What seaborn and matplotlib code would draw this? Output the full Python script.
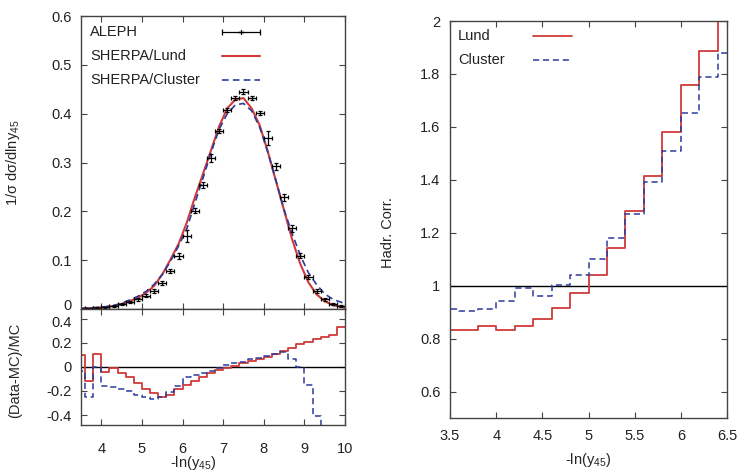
import numpy as np
import pandas as pd
import matplotlib
matplotlib.use("Agg")
import matplotlib.pyplot as plt
import matplotlib.transforms as mtransforms
from matplotlib.lines import Line2D
import seaborn as sns

# ---------------- data ----------------
BIN_WIDTH = 0.2
x_centers = [3.5, 3.7, 3.9, 4.1, 4.3, 4.5, 4.7, 4.9, 5.1, 5.3, 5.5, 5.7, 5.9, 6.1,
             6.3, 6.5, 6.7, 6.9, 7.1, 7.3, 7.5, 7.7, 7.9, 8.1, 8.3, 8.5, 8.7, 8.9,
             9.1, 9.3, 9.5, 9.7, 9.9]
aleph = [0.001, 0.002, 0.003, 0.004, 0.006, 0.0096, 0.015, 0.020, 0.027, 0.037,
         0.053, 0.078, 0.109, 0.150, 0.201, 0.254, 0.309, 0.365, 0.407, 0.433,
         0.445, 0.432, 0.402, 0.350, 0.292, 0.229, 0.165, 0.109, 0.066, 0.0375,
         0.020, 0.010, 0.006]
aleph_err = [0.001, 0.001, 0.001, 0.001, 0.002, 0.002, 0.002, 0.003, 0.003, 0.004,
             0.004, 0.004, 0.006, 0.012, 0.005, 0.006, 0.008, 0.004, 0.004, 0.004,
             0.005, 0.004, 0.004, 0.014, 0.008, 0.007, 0.008, 0.005, 0.004, 0.004,
             0.003, 0.002, 0.002]

curve_x = x_centers + [10.0]
lund_curve = [0.001, 0.0018, 0.0027, 0.004, 0.006, 0.0101, 0.0163, 0.023, 0.033, 0.0474,
              0.0707, 0.101, 0.133, 0.176, 0.228, 0.276, 0.325, 0.374, 0.411, 0.429,
              0.432, 0.411, 0.376, 0.322, 0.262, 0.202, 0.142, 0.092, 0.0545, 0.030,
              0.016, 0.0079, 0.0045, 0.003]
cluster_curve = [0.001, 0.0022, 0.003, 0.0048, 0.0072, 0.0117, 0.0188, 0.026, 0.036, 0.0507,
                 0.0707, 0.0975, 0.129, 0.163, 0.216, 0.267, 0.320, 0.368, 0.400, 0.418,
                 0.421, 0.406, 0.372, 0.321, 0.263, 0.203, 0.154, 0.110, 0.074, 0.050,
                 0.031, 0.020, 0.014, 0.011]

# ratio (Data-MC)/MC per bin (bins centred on x_centers)
ratio_lund = [0.10, -0.12, 0.11, -0.04, -0.01, -0.05, -0.08, -0.13, -0.18, -0.22,
              -0.25, -0.23, -0.18, -0.15, -0.12, -0.08, -0.05, -0.025, -0.01, 0.01,
              0.03, 0.05, 0.065, 0.085, 0.11, 0.135, 0.16, 0.19, 0.21, 0.23,
              0.25, 0.27, 0.335]
ratio_cluster = [-0.03, -0.25, 0.0, -0.16, -0.17, -0.18, -0.20, -0.23, -0.25, -0.27,
                 -0.25, -0.21, -0.155, -0.08, -0.07, -0.05, -0.035, -0.01, 0.015, 0.03,
                 0.04, 0.065, 0.075, 0.09, 0.105, 0.125, 0.07, 0.0, -0.15, -0.41,
                 -0.6, -0.6, -0.6]

# hadronisation corrections
hc_edges = [3.4, 3.6, 3.8, 4.0, 4.2, 4.4, 4.6, 4.8, 5.0, 5.2, 5.4, 5.6, 5.8, 6.0,
            6.2, 6.4, 6.6]
hc_lund = [0.834, 0.834, 0.849, 0.834, 0.849, 0.874, 0.916, 0.972, 1.041, 1.142,
           1.284, 1.415, 1.579, 1.759, 1.887, 2.1]
hc_cluster = [0.913, 0.905, 0.913, 0.941, 0.991, 0.962, 1.004, 1.04, 1.10, 1.181,
              1.271, 1.393, 1.51, 1.651, 1.789, 1.879]

left_xticks = [4, 5, 6, 7, 8, 9, 10]
top_yticks = [0, 0.1, 0.2, 0.3, 0.4, 0.5, 0.6]
ratio_yticks = [-0.4, -0.2, 0, 0.2, 0.4]
right_xticks = [3.5, 4, 4.5, 5, 5.5, 6, 6.5]
right_yticks = [0.6, 0.8, 1, 1.2, 1.4, 1.6, 1.8, 2]

# ---------------- style ----------------
sns.set_theme(style="ticks")
plt.rcParams["font.family"] = ["Liberation Sans", "DejaVu Sans"]
plt.rcParams["mathtext.fontset"] = "custom"
plt.rcParams["mathtext.rm"] = "Liberation Sans"
plt.rcParams["mathtext.it"] = "Liberation Sans:italic"
FS = 10.5
plt.rcParams["font.size"] = FS

RED = "#d03a3a"
BLUE = "#2b3a9c"
FRAME = "#444444"
TXT = "#222222"

fig = plt.figure(figsize=(7.38, 4.71), dpi=100)
ax_top = fig.add_axes([0.1098, 0.3439, 0.3577, 0.6221])
ax_rat = fig.add_axes([0.1098, 0.0977, 0.3577, 0.2463])
ax_hc = fig.add_axes([0.6098, 0.1125, 0.3753, 0.8429])


def style_axes(ax, xpad=6):
    for s in ax.spines.values():
        s.set_color(FRAME)
        s.set_linewidth(1.0)
    ax.tick_params(direction="in", top=True, right=True, length=4, width=0.8,
                   color=FRAME, labelsize=FS, labelcolor=TXT)
    ax.tick_params(axis="y", pad=7)
    ax.tick_params(axis="x", pad=xpad)


# ---- top panel ----
df_curves = pd.DataFrame({"x": curve_x, "lund": lund_curve, "cluster": cluster_curve})
sns.lineplot(data=df_curves, x="x", y="lund", ax=ax_top, color=RED, lw=1.5,
             sort=False, estimator=None)
sns.lineplot(data=df_curves, x="x", y="cluster", ax=ax_top, color=BLUE, lw=1.2,
             sort=False, estimator=None, linestyle=(0, (4, 2.5)))
ax_top.errorbar(x_centers, aleph, xerr=BIN_WIDTH / 2, yerr=aleph_err, fmt="none",
                ecolor="black", elinewidth=0.9, capsize=1.5, capthick=0.9)
ax_top.set_xlim(3.5, 10)
ax_top.set_ylim(0, 0.6)
ax_top.set_xticks(left_xticks)
ax_top.set_xticklabels([])
ax_top.set_yticks(top_yticks)
ax_top.set_yticklabels(["0", "0.1", "0.2", "0.3", "0.4", "0.5", "0.6"])
style_axes(ax_top)
ax_top.set_xlabel("")
ax_top.set_ylabel("1/σ dσ/dlny$_{45}$", fontsize=FS)
ax_top.yaxis.set_label_coords(-0.223, 0.50)
# nudge the "0" label up slightly so it does not collide with the ratio panel label
zero_lbl = ax_top.get_yticklabels()[0]
zero_lbl.set_transform(zero_lbl.get_transform() +
                       mtransforms.ScaledTranslation(0, 3 / 72, fig.dpi_scale_trans))

# legend, gnuplot style (text left, sample right)
leg_items = [("ALEPH", 0.945), ("SHERPA/Lund", 0.863), ("SHERPA/Cluster", 0.782)]
for label, yy in leg_items:
    ax_top.text(0.034, yy, label, transform=ax_top.transAxes, va="center", ha="left",
                fontsize=FS, color=TXT)
y0 = leg_items[0][1]
ax_top.errorbar([0.606], [y0], xerr=[0.072], yerr=[0.0], fmt="none", ecolor="black",
                elinewidth=0.9, capsize=2, capthick=0.9, transform=ax_top.transAxes,
                clip_on=False)
ax_top.add_line(Line2D([0.606, 0.606], [y0 - 0.006, y0 + 0.006], color="black", lw=0.9,
                       transform=ax_top.transAxes))
ax_top.add_line(Line2D([0.534, 0.678], [leg_items[1][1]] * 2, color=RED, lw=1.5,
                       transform=ax_top.transAxes))
ax_top.add_line(Line2D([0.534, 0.678], [leg_items[2][1]] * 2, color=BLUE, lw=1.2,
                       linestyle=(0, (4, 2.5)), transform=ax_top.transAxes))

# ---- ratio panel ----
edges = [c - BIN_WIDTH / 2 for c in x_centers] + [x_centers[-1] + BIN_WIDTH / 2]
df_rat = pd.DataFrame({"x": edges,
                       "lund": ratio_lund + [ratio_lund[-1]],
                       "cluster": ratio_cluster + [ratio_cluster[-1]]})
ax_rat.axhline(0, color="black", lw=1.0)
sns.lineplot(data=df_rat, x="x", y="lund", ax=ax_rat, color=RED, lw=1.3,
             drawstyle="steps-post", sort=False, estimator=None)
sns.lineplot(data=df_rat, x="x", y="cluster", ax=ax_rat, color=BLUE, lw=1.1,
             drawstyle="steps-post", sort=False, estimator=None, linestyle=(0, (4, 2.5)))
ax_rat.set_xlim(3.5, 10)
ax_rat.set_ylim(-0.483, 0.483)
ax_rat.set_xticks(left_xticks)
ax_rat.set_xticklabels([str(t) for t in left_xticks])
ax_rat.set_yticks(ratio_yticks)
ax_rat.set_yticklabels(["-0.4", "-0.2", "0", "0.2", "0.4"])
style_axes(ax_rat, xpad=12)
top_lbl = ax_rat.get_yticklabels()[-1]
top_lbl.set_transform(top_lbl.get_transform() +
                      mtransforms.ScaledTranslation(0, -1.5 / 72, fig.dpi_scale_trans))
ax_rat.set_ylabel("(Data-MC)/MC", fontsize=FS)
ax_rat.yaxis.set_label_coords(-0.223, 0.474)
ax_rat.set_xlabel("-ln(y$_{45}$)", fontsize=FS)
ax_rat.xaxis.set_label_coords(0.424, -0.33)
ax_rat.xaxis.label.set_va("center")

# ---- hadronisation correction panel ----
df_hc = pd.DataFrame({"x": hc_edges,
                      "lund": hc_lund + [hc_lund[-1]],
                      "cluster": hc_cluster + [hc_cluster[-1]]})
ax_hc.axhline(1, color="black", lw=1.0)
sns.lineplot(data=df_hc, x="x", y="lund", ax=ax_hc, color=RED, lw=1.3,
             drawstyle="steps-post", sort=False, estimator=None)
sns.lineplot(data=df_hc, x="x", y="cluster", ax=ax_hc, color=BLUE, lw=1.1,
             drawstyle="steps-post", sort=False, estimator=None, linestyle=(0, (4, 2.5)))
ax_hc.set_xlim(3.5, 6.5)
ax_hc.set_ylim(0.5, 2.0)
ax_hc.set_xticks(right_xticks)
ax_hc.set_xticklabels(["3.5", "4", "4.5", "5", "5.5", "6", "6.5"])
ax_hc.set_yticks(right_yticks)
ax_hc.set_yticklabels(["0.6", "0.8", "1", "1.2", "1.4", "1.6", "1.8", "2"])
style_axes(ax_hc, xpad=8)
ax_hc.set_ylabel("Hadr. Corr.", fontsize=FS)
ax_hc.yaxis.set_label_coords(-0.199, 0.466)
ax_hc.set_xlabel("-ln(y$_{45}$)", fontsize=FS)
ax_hc.xaxis.set_label_coords(0.50, -0.106)
ax_hc.xaxis.label.set_va("center")

for label, yy in [("Lund", 0.962), ("Cluster", 0.902)]:
    ax_hc.text(0.029, yy, label, transform=ax_hc.transAxes, va="center", ha="left",
               fontsize=FS, color=TXT)
ax_hc.add_line(Line2D([0.30, 0.44], [0.962] * 2, color=RED, lw=1.3,
                      transform=ax_hc.transAxes))
ax_hc.add_line(Line2D([0.30, 0.44], [0.902] * 2, color=BLUE, lw=1.1,
                      linestyle=(0, (4, 2.5)), transform=ax_hc.transAxes))

fig.savefig("out.png", dpi=100)
